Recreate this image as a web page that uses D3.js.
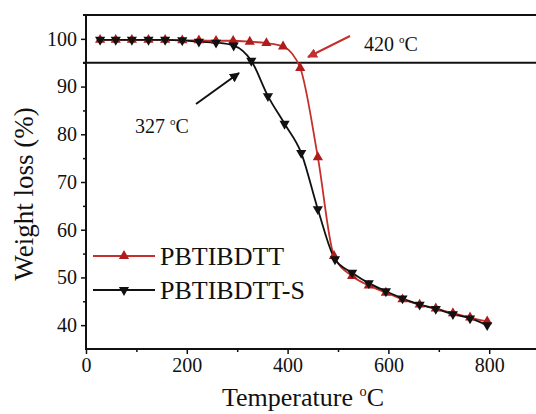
<!DOCTYPE html>
<html>
<head>
<meta charset="utf-8">
<script src="https://cdn.jsdelivr.net/npm/d3@7"></script>
<style>
  body { margin: 0; background: #fff; }
</style>
</head>
<body>
<div id="tgaWrapper"></div>
<script>
// data
const tempS = [28, 59, 91, 124, 157, 191, 224, 258, 293, 328, 361, 394, 427, 460, 494, 528, 561, 595, 628, 662, 694, 728, 762, 796];
const lossS = [99.8, 99.8, 99.8, 99.8, 99.8, 99.7, 99.4, 99.2, 98.6, 95.4, 88.0, 82.2, 76.1, 64.3, 53.8, 51.0, 48.8, 47.1, 45.6, 44.3, 43.4, 42.3, 41.4, 40.0];
const tempP = [28, 59, 91, 124, 157, 191, 224, 258, 292, 325, 358, 391, 425, 460, 492, 528, 561, 595, 628, 662, 694, 728, 762, 796];
const lossP = [99.8, 99.8, 99.8, 99.8, 99.8, 99.7, 99.7, 99.6, 99.6, 99.4, 99.1, 98.4, 93.9, 75.2, 54.5, 50.3, 48.3, 46.8, 45.4, 44.3, 43.5, 42.5, 41.6, 40.8];
const seriesNames = ["PBTIBDTT", "PBTIBDTT-S"];
const xTicks = [0, 200, 400, 600, 800];
const yTicks = [40, 50, 60, 70, 80, 90, 100];
const onsetLevel = 95;

const W = 536, H = 414;
const margin = {top: 15, left: 86, bottom: 65};
const red = "#c4302c", redDark = "#b01c1c";
const serif = "'Liberation Serif', 'Times New Roman', serif";

const svg = d3.select("#tgaWrapper").append("svg")
  .attr("width", W).attr("height", H)
  .style("font-family", serif);

const x = d3.scaleLinear().domain([0, 900]).range([margin.left, margin.left + 900 * 0.504]);
const y = d3.scaleLinear().domain([35, 105]).range([H - margin.bottom, margin.top]);

// axes (major ticks labelled, minor ticks without text)
const xAxis = svg.append("g").attr("transform", "translate(0," + y(35) + ")")
  .call(d3.axisBottom(x).tickValues(xTicks).tickSize(5).tickPadding(4).tickFormat(d3.format("d")));
const xMinor = svg.append("g").attr("transform", "translate(0," + y(35) + ")")
  .call(d3.axisBottom(x).tickValues([100, 300, 500, 700]).tickSize(3).tickFormat(""));
const yAxis = svg.append("g").attr("transform", "translate(" + x(0) + ",0)")
  .call(d3.axisLeft(y).tickValues(yTicks).tickSize(5).tickPadding(4));
const yMinor = svg.append("g").attr("transform", "translate(" + x(0) + ",0)")
  .call(d3.axisLeft(y).tickValues([45, 55, 65, 75, 85, 95]).tickSize(3).tickFormat(""));
xMinor.select(".domain").remove();
yMinor.select(".domain").remove();
xAxis.select(".domain").attr("d", "M" + (x(0) - 1) + ",0H" + W);
yAxis.select(".domain").attr("d", "M0," + y(35) + "V" + y(105));
svg.selectAll(".domain").attr("stroke", "#111").attr("stroke-width", 2);
svg.selectAll(".tick line").attr("stroke", "#111").attr("stroke-width", 1.5);
svg.selectAll(".tick text").style("font-family", serif).style("font-size", "20px").attr("fill", "#111");

// top border and 5% loss line
svg.append("line").attr("x1", x(0) - 3).attr("x2", W).attr("y1", y(105)).attr("y2", y(105))
  .attr("stroke", "#111").attr("stroke-width", 2);
svg.append("line").attr("x1", x(0) - 3).attr("x2", W).attr("y1", y(onsetLevel)).attr("y2", y(onsetLevel))
  .attr("stroke", "#111").attr("stroke-width", 2);

// curves
const line = d3.line().curve(d3.curveMonotoneX).x(d => x(d[0])).y(d => y(d[1]));
const ptsP = tempP.map((t, i) => [t, lossP[i]]);
const ptsS = tempS.map((t, i) => [t, lossS[i]]);
svg.append("path").datum(ptsP).attr("d", line).attr("fill", "none").attr("stroke", red).attr("stroke-width", 1.8);
svg.append("path").datum(ptsS).attr("d", line).attr("fill", "none").attr("stroke", "#111").attr("stroke-width", 1.8);

const tri = d3.symbol().type(d3.symbolTriangle).size(45);
svg.selectAll(".upTri").data(ptsP).enter().append("path").attr("class", "upTri")
  .attr("d", tri).attr("transform", d => "translate(" + x(d[0]) + "," + y(d[1]) + ")")
  .attr("fill", redDark);
svg.selectAll(".downTri").data(ptsS).enter().append("path").attr("class", "downTri")
  .attr("d", tri).attr("transform", d => "translate(" + x(d[0]) + "," + y(d[1]) + ") rotate(180)")
  .attr("fill", "#111");

// arrows
const defs = svg.append("defs");
[["arRed", red], ["arBlack", "#111"]].forEach(([id, c]) => {
  defs.append("marker").attr("id", id).attr("viewBox", "0 0 10 10").attr("refX", 9).attr("refY", 5)
    .attr("markerWidth", 5).attr("markerHeight", 5).attr("orient", "auto")
    .append("path").attr("d", "M0,0L10,5L0,10z").attr("fill", c);
});
svg.append("line").attr("x1", 350).attr("y1", 36).attr("x2", 308).attr("y2", 57)
  .attr("stroke", red).attr("stroke-width", 2).attr("marker-end", "url(#arRed)");
svg.append("line").attr("x1", 196).attr("y1", 104).attr("x2", 239).attr("y2", 73)
  .attr("stroke", "#111").attr("stroke-width", 2).attr("marker-end", "url(#arBlack)");

function degLabel(px, py, num, size) {
  const t = svg.append("text").attr("x", px).attr("y", py)
    .style("font-family", serif).style("font-size", size + "px").attr("fill", "#111");
  t.append("tspan").text(num + " ");
  t.append("tspan").text("o").style("font-size", (size * 0.55) + "px").attr("dy", -size * 0.4);
  t.append("tspan").text("C").attr("dy", size * 0.4);
  return t;
}
degLabel(364, 51, "420", 20);
degLabel(135, 133, "327", 20);

// axis titles
degLabel(222, 406, "Temperature", 26);
svg.append("text").attr("transform", "translate(33," + 194 + ") rotate(-90)")
  .attr("text-anchor", "middle").style("font-family", serif).style("font-size", "27px")
  .attr("fill", "#111").text("Weight loss (%)");

// legend
const legend = svg.append("g");
seriesNames.forEach((name, i) => {
  const ly = 256 + i * 34;
  const col = i === 0 ? red : "#111";
  legend.append("line").attr("x1", 93).attr("x2", 155).attr("y1", ly).attr("y2", ly)
    .attr("stroke", col).attr("stroke-width", 1.8);
  legend.append("path").attr("d", tri)
    .attr("transform", "translate(124," + ly + ")" + (i === 1 ? " rotate(180)" : ""))
    .attr("fill", i === 0 ? redDark : "#111");
  legend.append("text").attr("x", 160).attr("y", ly + 9).style("font-family", serif)
    .style("font-size", "26px").attr("fill", "#111").text(name);
});
</script>
</body>
</html>
